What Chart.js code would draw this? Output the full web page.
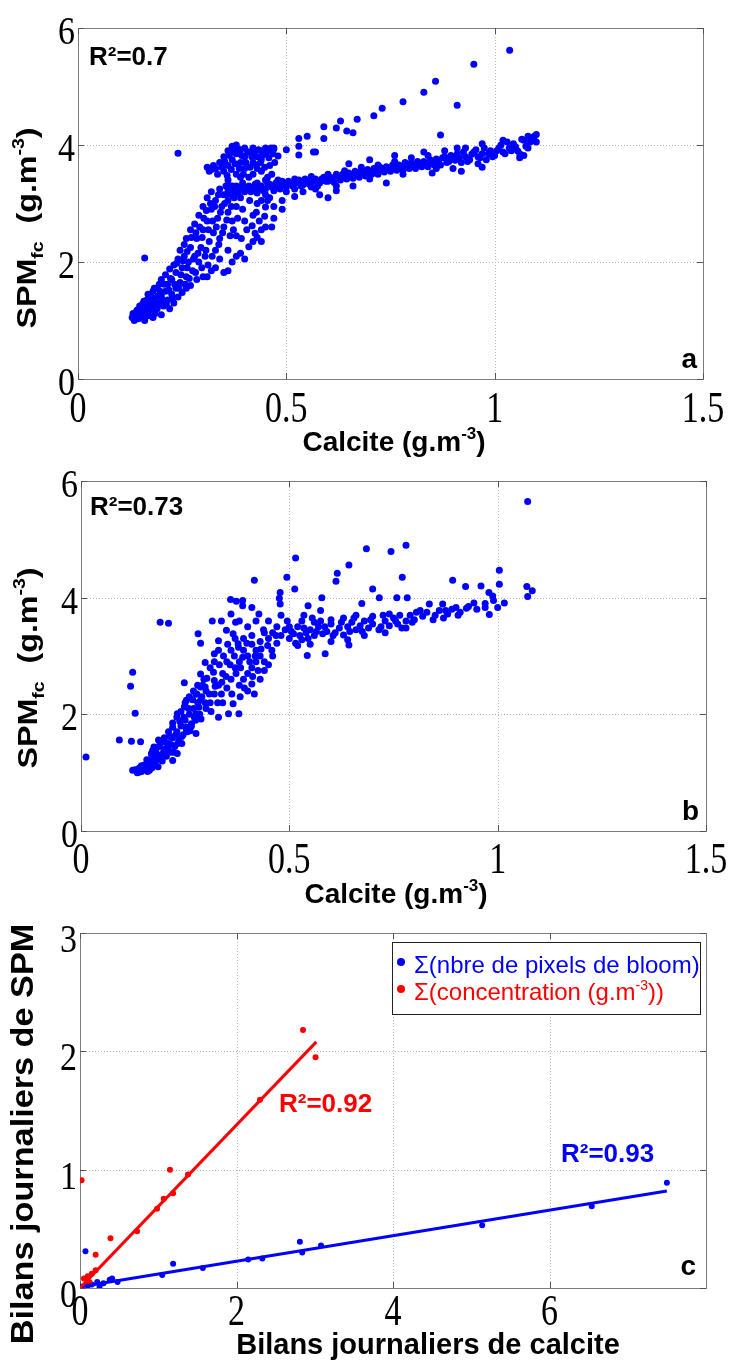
<!DOCTYPE html>
<html>
<head>
<meta charset="utf-8">
<script src="https://cdn.jsdelivr.net/npm/chart.js@4.4.0/dist/chart.umd.min.js"></script>
<style>
  body { margin: 0; background: #fff; }
  canvas { position: absolute; left: 0; }
</style>
</head>
<body>
<canvas id="chartA" width="731" height="460" style="top:0px"></canvas>
<canvas id="chartB" width="731" height="450" style="top:460px"></canvas>
<canvas id="chartC" width="731" height="453" style="top:910px"></canvas>

<script>
// ---- data ----
var calciteTicks = [0, 0.5, 1, 1.5];
var spmTicks = [0, 2, 4, 6];
var bilanCalciteTicks = [0, 2, 4, 6];
var bilanSpmTicks = [0, 1, 2, 3];

// panel a : [calcite, SPMfc]
var pointsA = [
  [0.24,3.86],[0.16,2.07],[0.47,3.95],[0.48,3.81],[0.50,3.92],[0.53,3.98],[0.53,3.83],[0.53,4.11],[0.55,4.15],[0.565,3.88],
  [0.59,4.11],[0.59,4.31],[0.62,4.29],[0.63,4.41],[0.645,4.24],[0.66,4.21],[0.67,4.44],[0.71,4.5],[0.73,4.63],[0.78,4.74],
  [0.83,4.9],[0.858,5.09],[0.87,4.17],[0.91,4.68],[0.95,5.38],[1.036,5.62],
  [0.33,1.9],[0.35,1.82],[0.36,1.85],[0.37,2.0],[0.38,2.1],[0.39,2.15],[0.40,2.05],[0.41,2.26],[0.42,2.35],[0.425,2.49],
  [0.43,2.42],[0.44,2.55],[0.45,2.94],[0.465,2.6],[0.43,3.0],[0.49,2.9],[0.40,2.7],[0.38,2.45],[0.42,2.8],[0.44,3.05],
  [0.46,3.1],[0.47,2.95],[0.36,2.2],[0.34,2.05],[0.32,1.85],[0.31,1.75],
  [0.13,1.05],[0.132,1.12],[0.135,1.0],[0.14,1.08],[0.14,1.15],[0.145,1.03],[0.15,1.1],[0.15,1.2],[0.155,1.06],[0.155,1.28],
  [0.16,1.0],[0.16,1.15],[0.165,1.22],[0.165,1.35],[0.17,1.08],[0.17,1.3],[0.175,1.18],[0.175,1.42],[0.18,1.05],[0.18,1.25],
  [0.18,1.5],[0.185,1.12],[0.185,1.38],[0.19,1.2],[0.19,1.55],[0.195,1.3],[0.195,1.62],[0.2,1.1],[0.2,1.42],[0.2,1.7],
  [0.205,1.25],[0.21,1.5],[0.21,1.78],[0.215,1.35],[0.215,1.62],[0.22,1.2],[0.22,1.88],[0.225,1.45],[0.225,1.7],[0.23,1.3],
  [0.23,1.95],[0.235,1.55],[0.235,1.82],[0.24,1.4],[0.24,2.05],[0.245,1.65],[0.245,2.2],[0.25,1.48],[0.25,1.9],[0.255,2.1],
  [0.255,2.3],[0.26,1.55],[0.26,1.75],[0.26,2.4],[0.265,2.0],[0.27,1.6],[0.27,2.25],[0.27,2.55],[0.275,1.85],[0.28,2.1],
  [0.28,2.65],[0.285,1.7],[0.285,2.4],[0.29,2.0],[0.29,2.8],[0.295,2.25],[0.3,1.75],[0.3,2.55],[0.3,2.95],[0.305,2.1],
  [0.31,2.7],[0.31,3.1],[0.315,2.35],[0.32,2.9],[0.32,3.2],[0.325,2.5],[0.33,2.2],[0.33,3.05],[0.335,2.75],[0.34,3.25],
  [0.34,2.4],[0.345,2.95],[0.35,3.15],[0.35,2.6],[0.355,3.3],[0.36,2.85],[0.36,3.05],[0.37,3.2],[0.37,2.7],[0.38,3.3],
  [0.38,2.95],[0.39,3.1],
  [0.142,1.18],[0.148,1.25],[0.158,1.33],[0.163,1.1],[0.168,1.45],[0.172,1.22],[0.178,1.33],[0.183,1.55],[0.188,1.28],[0.192,1.42],
  [0.197,1.5],[0.202,1.35],[0.207,1.62],[0.212,1.28],[0.218,1.52],[0.222,1.72],[0.227,1.38],[0.232,1.62],[0.237,1.98],[0.242,1.55],
  [0.247,1.78],[0.252,2.02],[0.257,1.62],[0.262,1.9],[0.262,2.18],[0.267,1.72],[0.272,2.42],[0.277,2.05],[0.282,1.82],[0.283,2.5],
  [0.288,2.15],[0.292,2.6],[0.297,1.9],[0.298,2.42],[0.302,2.75],[0.307,2.2],[0.308,2.88],[0.312,1.95],[0.313,2.55],[0.318,3.0],
  [0.322,2.1],[0.323,2.7],[0.328,2.95],[0.332,2.6],[0.337,3.15],[0.338,2.3],[0.342,2.85],[0.347,2.5],[0.352,3.0],[0.357,2.72],
  [0.362,3.2],[0.365,2.45],[0.368,2.95],[0.373,2.55],[0.375,3.1],[0.383,2.75],[0.385,3.25],[0.392,2.4],[0.395,2.9],[0.405,2.55],
  [0.412,3.05],[0.418,2.62],[0.428,2.85],[0.435,2.7],[0.448,2.78],[0.455,3.05],
  [0.31,3.62],[0.32,3.58],[0.33,3.6],[0.34,3.7],[0.35,3.55],[0.35,3.8],[0.36,3.65],[0.36,3.9],[0.37,3.75],[0.37,3.98],
  [0.38,3.5],[0.38,3.85],[0.38,4.0],[0.39,3.7],[0.39,3.92],[0.4,3.6],[0.4,3.8],[0.4,3.95],[0.41,3.45],[0.41,3.88],
  [0.42,3.7],[0.42,3.95],[0.43,3.8],[0.43,3.6],[0.44,3.9],[0.44,3.75],[0.45,3.85],[0.45,3.95],[0.46,3.9],[0.47,3.93],
  [0.36,3.4],[0.37,3.3],[0.39,3.45],[0.42,3.5],[0.44,3.55],[0.46,3.65],[0.45,3.4],[0.43,3.35],
  [0.315,3.55],[0.325,3.65],[0.335,3.5],[0.345,3.62],[0.352,3.72],[0.358,3.48],[0.363,3.82],[0.368,3.58],[0.372,3.88],[0.377,3.68],
  [0.383,3.93],[0.387,3.6],[0.393,3.82],[0.397,3.5],[0.403,3.7],[0.407,3.88],[0.413,3.62],[0.417,3.8],[0.423,3.87],[0.428,3.66],
  [0.433,3.92],[0.438,3.7],[0.443,3.83],[0.448,3.62],[0.453,3.9],[0.458,3.78],[0.463,3.95],[0.468,3.85],[0.455,3.45],[0.465,3.5],
  [0.472,3.7],
  [0.36,3.25],[0.37,3.15],[0.38,3.22],[0.39,3.28],[0.4,3.2],[0.41,3.3],[0.42,3.24],[0.43,3.18],[0.44,3.3],[0.45,3.25],
  [0.46,3.33],[0.47,3.22],[0.48,3.3],[0.49,3.38],[0.5,3.28],[0.51,3.34],[0.52,3.25],[0.53,3.4],[0.54,3.32],[0.55,3.37],
  [0.56,3.28],[0.57,3.42],[0.58,3.35],[0.58,3.15],[0.59,3.45],[0.6,3.38],[0.61,3.43],[0.62,3.5],[0.63,3.4],[0.64,3.47],
  [0.65,3.52],[0.66,3.43],[0.67,3.5],[0.68,3.56],[0.69,3.47],[0.7,3.54],[0.71,3.6],[0.72,3.5],[0.73,3.58],[0.74,3.35],
  [0.74,3.63],[0.75,3.55],[0.76,3.6],[0.77,3.66],[0.78,3.57],[0.79,3.64],[0.8,3.7],[0.81,3.6],[0.82,3.67],[0.83,3.72],
  [0.84,3.63],[0.85,3.7],[0.86,3.76],[0.87,3.66],[0.88,3.8],[0.89,3.72],[0.9,3.78],[0.91,3.85],[0.92,3.55],[0.92,3.7],
  [0.93,3.8],[0.94,3.75],[0.95,3.88],[0.96,3.8],[0.97,3.85],[0.98,3.75],[0.99,3.9],[1.0,3.82],[1.01,3.95],[1.02,3.88],
  [1.03,4.05],[1.04,3.9],[1.05,3.97],[1.06,3.85],[1.07,4.08],[1.08,3.95],[1.09,4.12],[1.1,4.05],[1.1,4.18],[1.08,4.15],
  [1.02,4.08],[0.97,4.02],[0.93,3.95],[0.88,3.9],[0.84,3.82],[0.8,3.78],[0.76,3.72],[0.72,3.66],[0.68,3.62],[0.64,3.56],
  [0.6,3.5],[0.56,3.46],[0.52,3.42],[0.48,3.4],[0.54,3.2],[0.62,3.3],[0.7,3.42],[0.78,3.5],[0.86,3.6],[0.96,3.68],
  [1.06,3.78],[0.66,3.3],[0.57,3.25],[0.5,3.2],[0.45,3.15],
  [0.355,3.15],[0.365,3.3],[0.375,3.25],[0.385,3.18],[0.395,3.35],[0.405,3.27],[0.415,3.2],[0.425,3.33],[0.435,3.26],[0.445,3.22],
  [0.455,3.35],[0.465,3.28],[0.475,3.35],[0.485,3.25],[0.495,3.33],[0.505,3.38],[0.515,3.3],[0.525,3.36],[0.535,3.3],[0.545,3.42],
  [0.555,3.33],[0.565,3.38],[0.575,3.3],[0.585,3.42],[0.595,3.38],[0.605,3.45],[0.615,3.36],[0.625,3.45],[0.635,3.5],[0.645,3.42],
  [0.655,3.48],[0.665,3.55],[0.675,3.45],[0.685,3.52],[0.695,3.58],[0.705,3.5],[0.715,3.55],[0.725,3.62],[0.735,3.54],[0.745,3.58],
  [0.755,3.66],[0.765,3.57],[0.775,3.62],[0.785,3.7],[0.795,3.6],[0.805,3.66],[0.815,3.72],[0.825,3.63],[0.835,3.68],[0.845,3.75],
  [0.855,3.66],[0.865,3.72],[0.875,3.78],[0.885,3.7],[0.895,3.82],[0.905,3.74],[0.915,3.78],[0.925,3.88],[0.935,3.72],[0.945,3.84],
  [0.955,3.92],[0.965,3.78],[0.975,3.95],[0.985,3.85],[0.995,3.8],[1.005,3.9],[1.015,4.0],[1.025,3.85],[1.035,3.95],[1.045,4.02],
  [1.055,3.9],[1.065,4.1],[1.075,3.98],[1.085,4.05],[1.095,4.15],
  [0.57,3.88],[0.6,3.1],[0.52,3.12],[0.49,3.05],[0.47,2.75],[0.44,2.35],[0.45,2.6],[0.62,3.22],[0.85,3.52],[0.97,3.62],
  [0.9,3.6],[1.07,3.82],[0.91,3.95],[0.83,3.88],[0.76,3.82],[0.7,3.75],[0.65,3.68]
];

// panel b : [calcite, SPMfc]
var pointsB = [
  [0.012,1.27],[0.092,1.56],[0.121,1.54],[0.143,1.53],[0.119,2.48],[0.124,2.72],[0.13,2.02],[0.19,3.58],[0.21,3.56],[0.248,2.54],
  [0.281,3.38],[0.287,3.22],[0.315,3.6],[0.337,3.6],[0.359,3.97],[0.373,3.94],[0.388,3.86],[0.416,4.3],[0.476,3.99],[0.478,3.89],
  [0.478,4.09],[0.494,4.35],[0.513,4.15],[0.515,4.68],[0.545,3.86],[0.578,4.0],[0.612,4.28],[0.615,4.42],[0.643,4.56],[0.674,3.9],
  [0.685,4.84],[0.70,4.15],[0.716,4.0],[0.744,4.79],[0.758,4.0],[0.771,4.35],[0.78,4.9],[0.783,4.0],[0.892,4.3],[0.923,4.19],
  [0.96,4.2],[1.004,4.47],[1.004,4.23],[1.07,4.19],[1.083,4.12],[1.072,4.02],[1.072,5.65],[0.543,3.01],[0.586,3.04],[0.643,3.19],
  [0.836,3.89],[0.814,3.78],[0.868,3.89],[0.88,3.72],[0.9,3.83],[0.943,3.91],[0.97,3.83],[0.98,3.71],[1.0,3.83],[1.016,3.91],
  [0.979,4.09],[0.988,4.03],
  [0.388,3.95],[0.41,3.83],[0.427,3.72],[0.371,3.58],[0.36,3.72],[0.33,3.26],[0.32,3.04],[0.298,2.89],[0.287,2.69],[0.349,3.44],
  [0.365,3.38],[0.377,3.21],[0.388,2.98],[0.4,2.7],[0.41,2.52],[0.416,2.35],[0.382,2.3],[0.365,2.18],[0.354,2.01],[0.379,2.01],
  [0.33,1.95],[0.337,2.35],[0.32,2.58],[0.298,2.47],[0.287,2.24],[0.276,2.01],[0.265,1.84],[0.276,1.67],[0.253,1.73],[0.242,1.5],
  [0.231,1.33],[0.22,1.21],[0.21,1.38],[0.197,1.56],[0.22,1.78],[0.231,2.01],[0.248,2.13],[0.253,2.24],[0.276,2.35],[0.287,2.47],
  [0.175,1.21],[0.164,1.04],[0.141,1.01],[0.124,1.04],[0.152,1.13],[0.175,1.44],[0.186,1.56],[0.169,1.33],
  [0.45,3.3],[0.46,3.4],[0.47,3.22],[0.48,3.35],[0.49,3.45],[0.5,3.3],[0.51,3.38],[0.52,3.5],[0.53,3.28],[0.54,3.4],
  [0.55,3.45],[0.56,3.35],[0.57,3.5],[0.58,3.38],[0.59,3.42],[0.6,3.55],[0.61,3.4],[0.62,3.48],[0.63,3.36],[0.64,3.5],
  [0.65,3.58],[0.66,3.45],[0.67,3.52],[0.68,3.6],[0.69,3.48],[0.7,3.55],[0.72,3.5],[0.73,3.6],[0.74,3.52],[0.75,3.65],
  [0.76,3.55],[0.77,3.48],[0.78,3.6],[0.79,3.7],[0.8,3.62],[0.82,3.68],[0.83,3.75],[0.85,3.7],[0.86,3.78],[0.87,3.65],
  [0.89,3.8],[0.91,3.75],[0.93,3.85],[0.95,3.8],[0.97,3.9],[0.99,3.95],[0.5,3.5],[0.53,3.6],[0.56,3.58],[0.6,3.62],
  [0.63,3.65],[0.66,3.7],[0.7,3.68],[0.74,3.72],[0.52,3.18],[0.55,3.2],[0.6,3.25],[0.64,3.28],[0.68,3.35],[0.73,3.4],
  [0.78,3.48],[0.47,3.5],[0.44,3.4],[0.43,3.25],[0.42,3.1],[0.44,2.9],[0.46,3.0],[0.41,3.35],[0.4,3.5],[0.42,3.6],
  [0.45,3.6],[0.48,3.7],[0.39,3.3],[0.38,3.6],
  [0.13,1.05],[0.135,1.0],[0.14,1.08],[0.145,1.02],[0.15,1.1],[0.155,1.05],[0.16,1.15],[0.16,1.02],[0.165,1.2],[0.17,1.08],
  [0.17,1.3],[0.175,1.15],[0.18,1.25],[0.18,1.4],[0.185,1.1],[0.19,1.3],[0.19,1.5],[0.195,1.2],[0.2,1.4],[0.2,1.6],
  [0.205,1.28],[0.21,1.5],[0.21,1.7],[0.215,1.35],[0.22,1.6],[0.22,1.85],[0.225,1.45],[0.23,1.7],[0.23,1.95],[0.235,1.55],
  [0.24,1.8],[0.24,2.05],[0.245,1.65],[0.25,1.9],[0.25,2.2],[0.255,1.7],[0.26,2.0],[0.26,2.3],[0.265,1.8],[0.27,2.1],
  [0.27,2.4],[0.275,1.9],[0.28,2.2],[0.28,2.5],[0.285,2.0],[0.29,2.3],[0.295,2.6],[0.3,2.1],[0.3,2.4],[0.31,2.2],
  [0.31,2.8],[0.32,2.35],[0.32,2.9],[0.33,2.5],[0.33,3.1],[0.34,2.7],[0.34,2.2],[0.35,2.9],[0.35,2.45],[0.36,3.1],
  [0.36,2.6],[0.37,2.8],[0.37,3.3],[0.38,2.9],[0.38,2.5],[0.39,3.1],[0.39,2.6],[0.4,3.0],[0.4,2.4],[0.41,3.2],
  [0.41,2.8],[0.42,2.9],[0.43,3.0],[0.43,2.6],[0.44,2.75],[0.45,2.85],
  [0.145,1.12],[0.152,1.05],[0.158,1.22],[0.162,1.08],[0.168,1.12],[0.172,1.38],[0.178,1.18],[0.182,1.32],[0.187,1.45],[0.192,1.22],
  [0.198,1.35],[0.202,1.52],[0.207,1.42],[0.213,1.62],[0.217,1.48],[0.222,1.35],[0.227,1.65],[0.232,1.5],[0.237,1.88],[0.242,1.62],
  [0.247,1.95],[0.252,1.78],[0.258,2.1],[0.262,1.72],[0.268,2.25],[0.272,1.95],[0.278,2.35],[0.283,2.12],[0.288,1.92],[0.292,2.5],
  [0.298,2.2],[0.302,2.62],[0.308,2.35],[0.312,2.05],[0.318,2.72],[0.322,2.48],[0.328,2.2],[0.332,2.85],[0.338,2.55],[0.342,3.0],
  [0.348,2.65],[0.352,3.2],[0.358,2.85],[0.362,2.35],[0.368,3.0],[0.372,2.7],[0.378,3.15],[0.383,2.8],[0.392,2.45],[0.398,3.22],
  [0.405,2.9],[0.412,2.65],[0.418,3.0],[0.425,2.75],[0.432,3.12],[0.438,3.45],[0.448,3.18],[0.458,3.1],[0.468,3.35],
  [0.505,3.42],[0.515,3.22],[0.525,3.35],[0.535,3.48],[0.545,3.3],[0.565,3.42],[0.575,3.6],[0.585,3.5],[0.605,3.35],[0.625,3.58],
  [0.645,3.42],[0.655,3.65],[0.675,3.42],[0.695,3.62],[0.715,3.45],[0.725,3.7],[0.755,3.6],[0.765,3.7],[0.795,3.58],[0.805,3.75],
  [0.845,3.62],[0.875,3.78],[0.905,3.7],[0.925,3.82],[0.535,3.7],[0.575,3.78],[0.495,3.6],[0.555,3.65]
];

// panel c : daily budgets
var bloomPixels = [
  [0.02,0.01],[0.07,0.31],[0.1,0.02],[0.15,0.03],[0.22,0.05],[0.25,0.01],[0.3,0.04],[0.38,0.07],[0.41,0.08],[0.48,0.05],
  [1.05,0.11],[1.19,0.205],[1.57,0.17],[2.15,0.24],[2.33,0.25],[2.81,0.39],[2.84,0.30],[3.08,0.36],[5.14,0.53],[6.54,0.69],
  [7.5,0.89]
];
var concentration = [
  [0.0,0.0],[0.02,0.91],[0.05,0.08],[0.1,0.1],[0.12,0.05],[0.15,0.12],[0.2,0.15],[0.2,0.28],[0.39,0.42],[0.73,0.48],
  [0.985,0.67],[1.07,0.755],[1.15,1.0],[1.19,0.80],[1.38,0.96],[2.30,1.59],[2.85,2.18],[3.01,1.95]
];
var fitBloom = [[0, 0.01], [7.5, 0.82]];
var fitConcentration = [[0, 0], [3.02, 2.08]];
var legendLabelsC = ['Σ(nbre de pixels de bloom)', 'Σ(concentration (g.m^{-3}))'];

// ---- drawing helpers ----
var SERIF = '"Liberation Serif", "Times New Roman", serif';
var SANS = '"Liberation Sans", Arial, sans-serif';
var BLUE = 'rgb(0,0,255)';
var RED = 'rgb(255,0,0)';

function toXY(arr) {
  return arr.map(function (p) { return {x: p[0], y: p[1]}; });
}

// split "abc^{sup}def_{sub}" into font parts
function richParts(str, size, weight) {
  var parts = [];
  str.split(/(\^\{[^}]*\}|_\{[^}]*\})/).forEach(function (s) {
    if (!s) return;
    if (s[0] === '^') parts.push({t: s.slice(2, -1), font: weight + ' ' + Math.round(size * 0.6) + 'px ' + SANS, dy: -size * 0.42});
    else if (s[0] === '_') parts.push({t: s.slice(2, -1), font: weight + ' ' + Math.round(size * 0.6) + 'px ' + SANS, dy: size * 0.25});
    else parts.push({t: s, font: weight + ' ' + size + 'px ' + SANS, dy: 0});
  });
  return parts;
}

function drawRich(ctx, parts, x, y, align) {
  var w = 0;
  parts.forEach(function (p) { ctx.font = p.font; w += ctx.measureText(p.t).width; });
  var cx = align === 'center' ? x - w / 2 : (align === 'right' ? x - w : x);
  ctx.textAlign = 'left';
  ctx.textBaseline = 'alphabetic';
  parts.forEach(function (p) {
    ctx.font = p.font;
    ctx.fillText(p.t, cx, y + p.dy);
    cx += ctx.measureText(p.t).width;
  });
}

// MATLAB-like axes box, dotted grid, inner ticks, serif tick labels
var matlabAxes = {
  id: 'matlabAxes',
  beforeDatasetsDraw: function (chart, args, o) {
    var ctx = chart.ctx, a = chart.chartArea, xs = chart.scales.x, ys = chart.scales.y;
    ctx.save();
    ctx.lineWidth = 1;
    ctx.strokeStyle = '#b8b8b8';
    ctx.setLineDash([1, 2]);
    o.xTicks.forEach(function (v) {
      if (v <= xs.min || v >= xs.max) return;
      var px = Math.round(xs.getPixelForValue(v)) + 0.5;
      ctx.beginPath(); ctx.moveTo(px, a.top); ctx.lineTo(px, a.bottom); ctx.stroke();
    });
    o.yTicks.forEach(function (v) {
      if (v <= ys.min || v >= ys.max) return;
      var py = Math.round(ys.getPixelForValue(v)) + 0.5;
      ctx.beginPath(); ctx.moveTo(a.left, py); ctx.lineTo(a.right, py); ctx.stroke();
    });
    ctx.setLineDash([]);
    ctx.strokeStyle = '#7c7c7c';
    ctx.strokeRect(Math.round(a.left) + 0.5, Math.round(a.top) + 0.5, Math.round(a.right - a.left), Math.round(a.bottom - a.top));
    ctx.strokeStyle = '#555';
    o.xTicks.forEach(function (v) {
      var px = Math.round(xs.getPixelForValue(v)) + 0.5;
      ctx.beginPath();
      ctx.moveTo(px, a.bottom); ctx.lineTo(px, a.bottom - 6);
      ctx.moveTo(px, a.top); ctx.lineTo(px, a.top + 6);
      ctx.stroke();
    });
    o.yTicks.forEach(function (v) {
      var py = Math.round(ys.getPixelForValue(v)) + 0.5;
      ctx.beginPath();
      ctx.moveTo(a.left, py); ctx.lineTo(a.left + 6, py);
      ctx.moveTo(a.right, py); ctx.lineTo(a.right - 6, py);
      ctx.stroke();
    });
    ctx.restore();
  },
  afterDraw: function (chart, args, o) {
    var ctx = chart.ctx, a = chart.chartArea, xs = chart.scales.x, ys = chart.scales.y;
    ctx.save();
    ctx.fillStyle = '#000';
    ctx.font = '34px ' + SERIF;
    ctx.textBaseline = 'alphabetic';
    // tick labels (stretched vertically like the original figure)
    ctx.textAlign = 'center';
    o.xTicks.forEach(function (v) {
      ctx.save();
      ctx.translate(xs.getPixelForValue(v), a.bottom + o.xLabelOffset);
      ctx.scale(1, 1.28);
      ctx.fillText(String(v), 0, 0);
      ctx.restore();
    });
    ctx.textAlign = 'right';
    o.yTicks.forEach(function (v) {
      ctx.save();
      ctx.translate(a.left - 3, ys.getPixelForValue(v) + o.yLabelOffset);
      ctx.scale(1, 1.15);
      ctx.fillText(String(v), 0, 0);
      ctx.restore();
    });
    // axis titles
    ctx.fillStyle = '#000';
    drawRich(ctx, richParts(o.xTitle.text, o.xTitle.size, 'bold'), o.xTitle.x, o.xTitle.y, 'center');
    ctx.save();
    ctx.translate(o.yTitle.x, o.yTitle.y);
    ctx.rotate(-Math.PI / 2);
    ctx.scale(o.yTitle.stretch, 1);
    drawRich(ctx, richParts(o.yTitle.text, o.yTitle.size, 'bold'), 0, 0, 'center');
    ctx.restore();
    // annotations
    o.notes.forEach(function (n) {
      ctx.fillStyle = n.color;
      drawRich(ctx, richParts(n.text, n.size, 'bold'), n.x, n.y, n.align);
    });
    // legend
    if (o.legend) {
      var L = o.legend;
      ctx.fillStyle = '#fff';
      ctx.fillRect(L.left, L.top, L.right - L.left, L.bottom - L.top);
      ctx.strokeStyle = '#222';
      ctx.lineWidth = 1;
      ctx.strokeRect(L.left + 0.5, L.top + 0.5, L.right - L.left, L.bottom - L.top);
      L.items.forEach(function (it, i) {
        var color = chart.data.datasets[it.dataset].backgroundColor;
        ctx.fillStyle = color;
        ctx.beginPath();
        ctx.arc(L.markerX, L.rowY[i] - 11, 4, 0, Math.PI * 2);
        ctx.fill();
        drawRich(ctx, richParts(it.label, 24, 'normal'), L.textX, L.rowY[i], 'left');
      });
    }
    ctx.restore();
  }
};

function scatterSet(points, color, radius) {
  return {
    data: toXY(points),
    backgroundColor: color,
    borderColor: color,
    borderWidth: 0,
    pointRadius: radius,
    pointHoverRadius: radius
  };
}

function makeChart(id, datasets, xRange, yRange, box, axesOpts) {
  return new Chart(document.getElementById(id).getContext('2d'), {
    type: 'scatter',
    data: {datasets: datasets},
    options: {
      responsive: false,
      animation: false,
      events: [],
      layout: {padding: {left: 0, top: box.top, right: box.right, bottom: 0}},
      plugins: {legend: {display: false}, tooltip: {enabled: false}, matlabAxes: axesOpts},
      scales: {
        x: {
          type: 'linear', min: xRange[0], max: xRange[1],
          ticks: {display: false}, grid: {display: false}, border: {display: false},
          afterFit: function (s) { s.height = box.xHeight; }
        },
        y: {
          type: 'linear', min: yRange[0], max: yRange[1],
          ticks: {display: false}, grid: {display: false}, border: {display: false},
          afterFit: function (s) { s.width = box.yWidth; }
        }
      }
    },
    plugins: [matlabAxes]
  });
}

// panel a
makeChart('chartA', [scatterSet(pointsA, BLUE, 3.5)], [0, 1.5], [0, 6],
  {top: 28, right: 28, xHeight: 81, yWidth: 78},
  {
    xTicks: calciteTicks, yTicks: spmTicks, xLabelOffset: 43, yLabelOffset: 16,
    xTitle: {text: 'Calcite (g.m^{-3})', x: 394, y: 451, size: 28},
    yTitle: {text: 'SPM_{fc}  (g.m^{-3})', x: 36, y: 228, size: 28, stretch: 1.15},
    notes: [
      {text: 'R²=0.7', x: 89, y: 65, size: 26, color: '#000', align: 'left'},
      {text: 'a', x: 697, y: 368, size: 28, color: '#000', align: 'right'}
    ]
  });

// panel b
makeChart('chartB', [scatterSet(pointsB, BLUE, 3.5)], [0, 1.5], [0, 6],
  {top: 21, right: 25, xHeight: 79, yWidth: 81},
  {
    xTicks: calciteTicks, yTicks: spmTicks, xLabelOffset: 42, yLabelOffset: 16,
    xTitle: {text: 'Calcite (g.m^{-3})', x: 396, y: 443, size: 28},
    yTitle: {text: 'SPM_{fc}  (g.m^{-3})', x: 37, y: 208, size: 28, stretch: 1.15},
    notes: [
      {text: 'R²=0.73', x: 90, y: 55, size: 26, color: '#000', align: 'left'},
      {text: 'b', x: 699, y: 360, size: 28, color: '#000', align: 'right'}
    ]
  });

// panel c
var lineSet = function (points, color) {
  return {
    data: toXY(points), showLine: true, borderColor: color, backgroundColor: color,
    borderWidth: 3, pointRadius: 0, pointHoverRadius: 0
  };
};
makeChart('chartC', [
    lineSet(fitConcentration, RED),
    lineSet(fitBloom, BLUE),
    scatterSet(concentration, RED, 3),
    scatterSet(bloomPixels, BLUE, 3)
  ], [0, 8], [0, 3],
  {top: 23, right: 25, xHeight: 75, yWidth: 80},
  {
    xTicks: bilanCalciteTicks, yTicks: bilanSpmTicks, xLabelOffset: 37, yLabelOffset: 19,
    xTitle: {text: 'Bilans journaliers de calcite', x: 428, y: 444, size: 29},
    yTitle: {text: 'Bilans journaliers de SPM', x: 33, y: 224, size: 32, stretch: 1.07},
    notes: [
      {text: 'R²=0.92', x: 279, y: 202, size: 26, color: RED, align: 'left'},
      {text: 'R²=0.93', x: 561, y: 252, size: 26, color: BLUE, align: 'left'},
      {text: 'c', x: 696, y: 365, size: 28, color: '#000', align: 'right'}
    ],
    legend: {
      left: 392, top: 32, right: 700, bottom: 104, markerX: 401, textX: 414, rowY: [63, 90],
      items: [{dataset: 3, label: legendLabelsC[0]}, {dataset: 2, label: legendLabelsC[1]}]
    }
  });
</script>
</body>
</html>
